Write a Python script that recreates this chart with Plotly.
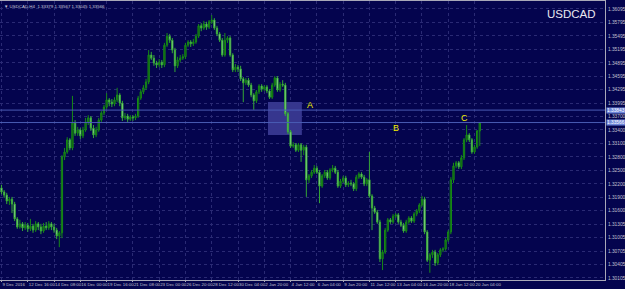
import plotly.graph_objects as go

# ---------------- data (USDCAD H4) ----------------
opens = [1.3211, 1.3202, 1.3195, 1.3182, 1.3186, 1.3175, 1.3142, 1.3124, 1.3131, 1.3122,
         1.3128, 1.3120, 1.3126, 1.3117, 1.3131, 1.3124, 1.3115, 1.3126, 1.3122, 1.3131,
         1.3124, 1.3117, 1.3104, 1.3111, 1.3280, 1.3291, 1.3318, 1.3300, 1.3356, 1.3333,
         1.3340, 1.3327, 1.3340, 1.3358, 1.3367, 1.3344, 1.3329, 1.3340, 1.3362, 1.3378,
         1.3391, 1.3407, 1.3402, 1.3398, 1.3407, 1.3418, 1.3400, 1.3367, 1.3371, 1.3364,
         1.3369, 1.3367, 1.3371, 1.3411, 1.3425, 1.3434, 1.3447, 1.3507, 1.3500, 1.3489,
         1.3485, 1.3491, 1.3485, 1.3529, 1.3549, 1.3540, 1.3518, 1.3483, 1.3496, 1.3500,
         1.3503, 1.3529, 1.3536, 1.3532, 1.3536, 1.3549, 1.3572, 1.3567, 1.3576, 1.3569,
         1.3581, 1.3585, 1.3567, 1.3554, 1.3540, 1.3507, 1.3540, 1.3545, 1.3507, 1.3474,
         1.3480, 1.3476, 1.3454, 1.3445, 1.3451, 1.3440, 1.3418, 1.3405, 1.3425, 1.3438,
         1.3431, 1.3436, 1.3427, 1.3413, 1.3440, 1.3456, 1.3429, 1.3442, 1.3440, 1.3376,
         1.3336, 1.3304, 1.3307, 1.3295, 1.3307, 1.3295, 1.3302, 1.3229, 1.3238, 1.3246,
         1.3255, 1.3246, 1.3215, 1.3238, 1.3246, 1.3233, 1.3251, 1.3255, 1.3246, 1.3215,
         1.3226, 1.3233, 1.3218, 1.3222, 1.3220, 1.3209, 1.3235, 1.3242, 1.3235, 1.3220,
         1.3229, 1.3193, 1.3166, 1.3157, 1.3135, 1.3053, 1.3068, 1.3117, 1.3140, 1.3135,
         1.3148, 1.3151, 1.3135, 1.3128, 1.3115, 1.3135, 1.3144, 1.3137, 1.3153, 1.3160,
         1.3173, 1.3186, 1.3113, 1.3050, 1.3062, 1.3068, 1.3044, 1.3062, 1.3073, 1.3075,
         1.3095, 1.3113, 1.3229, 1.3260, 1.3267, 1.3258, 1.3278, 1.3318, 1.3329, 1.3318,
         1.3291, 1.3302, 1.33379]
highs = [1.3218, 1.3206, 1.3200, 1.3191, 1.3191, 1.3180, 1.3146, 1.3140, 1.3135, 1.3135,
         1.3133, 1.3142, 1.3131, 1.3137, 1.3135, 1.3131, 1.3133, 1.3135, 1.3137, 1.3135,
         1.3131, 1.3122, 1.3115, 1.3284, 1.3300, 1.3324, 1.3322, 1.3416, 1.3362, 1.3347,
         1.3344, 1.3347, 1.3367, 1.3373, 1.3371, 1.3351, 1.3347, 1.3367, 1.3382, 1.3396,
         1.3422, 1.3411, 1.3409, 1.3413, 1.3434, 1.3422, 1.3405, 1.3378, 1.3376, 1.3373,
         1.3373, 1.3376, 1.3416, 1.3429, 1.3440, 1.3454, 1.3518, 1.3514, 1.3507, 1.3494,
         1.3498, 1.3496, 1.3534, 1.3556, 1.3554, 1.3545, 1.3523, 1.3503, 1.3507, 1.3509,
         1.3534, 1.3540, 1.3540, 1.3543, 1.3554, 1.3576, 1.3578, 1.3583, 1.3581, 1.3585,
         1.3596, 1.3589, 1.3572, 1.3558, 1.3545, 1.3556, 1.3549, 1.3549, 1.3511, 1.3487,
         1.3485, 1.3483, 1.3458, 1.3456, 1.3456, 1.3445, 1.3422, 1.3429, 1.3442, 1.3442,
         1.3440, 1.3440, 1.3431, 1.3445, 1.3460, 1.3460, 1.3447, 1.3451, 1.3445, 1.3380,
         1.3340, 1.3313, 1.3311, 1.3311, 1.3311, 1.3307, 1.3307, 1.3242, 1.3251, 1.3262,
         1.3260, 1.3251, 1.3242, 1.3251, 1.3251, 1.3255, 1.3262, 1.3260, 1.3251, 1.3231,
         1.3238, 1.3238, 1.3226, 1.3229, 1.3224, 1.3240, 1.3246, 1.3246, 1.3240, 1.3233,
         1.3291, 1.3197, 1.3171, 1.3162, 1.3140, 1.3073, 1.3122, 1.3144, 1.3144, 1.3153,
         1.3155, 1.3155, 1.3140, 1.3133, 1.3140, 1.3148, 1.3148, 1.3157, 1.3164, 1.3177,
         1.3193, 1.3191, 1.3117, 1.3066, 1.3073, 1.3073, 1.3066, 1.3077, 1.3079, 1.3099,
         1.3117, 1.3235, 1.3267, 1.3271, 1.3271, 1.3284, 1.3322, 1.3351, 1.3333, 1.3322,
         1.3307, 1.3340, 1.33567]
lows = [1.3197, 1.3189, 1.3175, 1.3173, 1.3155, 1.3137, 1.3120, 1.3120, 1.3115, 1.3117,
        1.3113, 1.3115, 1.3111, 1.3113, 1.3117, 1.3108, 1.3111, 1.3117, 1.3117, 1.3117,
        1.3111, 1.3097, 1.3079, 1.3099, 1.3273, 1.3287, 1.3295, 1.3295, 1.3327, 1.3327,
        1.3320, 1.3322, 1.3336, 1.3351, 1.3338, 1.3322, 1.3324, 1.3336, 1.3358, 1.3373,
        1.3387, 1.3393, 1.3391, 1.3393, 1.3402, 1.3393, 1.3360, 1.3362, 1.3358, 1.3360,
        1.3360, 1.3362, 1.3367, 1.3407, 1.3420, 1.3429, 1.3442, 1.3496, 1.3483, 1.3478,
        1.3480, 1.3478, 1.3480, 1.3525, 1.3534, 1.3511, 1.3469, 1.3478, 1.3491, 1.3496,
        1.3498, 1.3525, 1.3525, 1.3527, 1.3532, 1.3545, 1.3560, 1.3563, 1.3563, 1.3565,
        1.3576, 1.3563, 1.3549, 1.3536, 1.3503, 1.3503, 1.3534, 1.3503, 1.3469, 1.3469,
        1.3469, 1.3449, 1.3402, 1.3440, 1.3436, 1.3413, 1.3385, 1.3400, 1.3420, 1.3425,
        1.3427, 1.3422, 1.3409, 1.3409, 1.3436, 1.3425, 1.3425, 1.3436, 1.3371, 1.3331,
        1.3300, 1.3300, 1.3291, 1.3291, 1.3269, 1.3284, 1.3191, 1.3222, 1.3233, 1.3242,
        1.3242, 1.3177, 1.3211, 1.3233, 1.3229, 1.3229, 1.3246, 1.3242, 1.3211, 1.3211,
        1.3222, 1.3213, 1.3213, 1.3215, 1.3204, 1.3204, 1.3231, 1.3231, 1.3215, 1.3215,
        1.3189, 1.3117, 1.3153, 1.3131, 1.3046, 1.3028, 1.3064, 1.3113, 1.3131, 1.3131,
        1.3144, 1.3131, 1.3124, 1.3111, 1.3111, 1.3131, 1.3133, 1.3133, 1.3148, 1.3155,
        1.3169, 1.3108, 1.3046, 1.3022, 1.3055, 1.3037, 1.3039, 1.3057, 1.3068, 1.3071,
        1.3091, 1.3108, 1.3222, 1.3255, 1.3253, 1.3253, 1.3273, 1.3313, 1.3313, 1.3287,
        1.3287, 1.3298, 1.33045]
closes = [1.3202, 1.3195, 1.3182, 1.3186, 1.3175, 1.3142, 1.3124, 1.3131, 1.3122, 1.3128,
          1.3120, 1.3126, 1.3117, 1.3131, 1.3124, 1.3115, 1.3126, 1.3122, 1.3131, 1.3124,
          1.3117, 1.3104, 1.3111, 1.3280, 1.3291, 1.3318, 1.3300, 1.3356, 1.3333, 1.3340,
          1.3327, 1.3340, 1.3358, 1.3367, 1.3344, 1.3329, 1.3340, 1.3362, 1.3378, 1.3391,
          1.3407, 1.3402, 1.3398, 1.3407, 1.3418, 1.3400, 1.3367, 1.3371, 1.3364, 1.3369,
          1.3367, 1.3371, 1.3411, 1.3425, 1.3434, 1.3447, 1.3507, 1.3500, 1.3489, 1.3485,
          1.3491, 1.3485, 1.3529, 1.3549, 1.3540, 1.3518, 1.3483, 1.3496, 1.3500, 1.3503,
          1.3529, 1.3536, 1.3532, 1.3536, 1.3549, 1.3572, 1.3567, 1.3576, 1.3569, 1.3581,
          1.3585, 1.3567, 1.3554, 1.3540, 1.3507, 1.3540, 1.3545, 1.3507, 1.3474, 1.3480,
          1.3476, 1.3454, 1.3445, 1.3451, 1.3440, 1.3418, 1.3405, 1.3425, 1.3438, 1.3431,
          1.3436, 1.3427, 1.3413, 1.3440, 1.3456, 1.3429, 1.3442, 1.3440, 1.3376, 1.3336,
          1.3304, 1.3307, 1.3295, 1.3307, 1.3295, 1.3302, 1.3229, 1.3238, 1.3246, 1.3255,
          1.3246, 1.3215, 1.3238, 1.3246, 1.3233, 1.3251, 1.3255, 1.3246, 1.3215, 1.3226,
          1.3233, 1.3218, 1.3222, 1.3220, 1.3209, 1.3235, 1.3242, 1.3235, 1.3220, 1.3229,
          1.3193, 1.3166, 1.3157, 1.3135, 1.3053, 1.3068, 1.3117, 1.3140, 1.3135, 1.3148,
          1.3151, 1.3135, 1.3128, 1.3115, 1.3135, 1.3144, 1.3137, 1.3153, 1.3160, 1.3173,
          1.3186, 1.3113, 1.3050, 1.3062, 1.3068, 1.3044, 1.3062, 1.3073, 1.3075, 1.3095,
          1.3113, 1.3229, 1.3260, 1.3267, 1.3258, 1.3278, 1.3318, 1.3329, 1.3318, 1.3291,
          1.3302, 1.3338, 1.33566]

time_tick_bars = [0, 10, 20, 30, 40, 50, 60, 70, 80, 90, 100, 110, 120, 130, 140, 150, 160, 170, 180]
time_tick_labels = ["9 Dec 2016", "12 Dec 16:00", "14 Dec 08:00", "16 Dec 00:00", "19 Dec 16:00",
                    "21 Dec 08:00", "23 Dec 00:00", "26 Dec 20:00", "28 Dec 12:00", "30 Dec 04:00",
                    "2 Jan 20:00", "4 Jan 12:00", "6 Jan 04:00", "9 Jan 20:00", "11 Jan 12:00",
                    "13 Jan 04:00", "16 Jan 20:00", "18 Jan 12:00", "20 Jan 04:00"]
price_tick_labels = ["1.36095", "1.35795", "1.35495", "1.35195", "1.34895", "1.34595", "1.34295",
                     "1.33995", "1.33700", "1.33400", "1.33100", "1.32800", "1.32500", "1.32200",
                     "1.31900", "1.31600", "1.31305", "1.31005", "1.30705", "1.30405", "1.30105"]
price_tick_values = [float(s) for s in price_tick_labels]

hline_levels = [1.33843, 1.33566]
hline_labels = ["1.33843", "1.33566"]
zone = dict(bar0=101.4, bar1=114.3, p0=1.33289, p1=1.34023)
marks = [("A", 117.4, 1.33957), ("B", 150.1, 1.33444), ("C", 176.0, 1.33667)]
header = "\u25bc USDCAD,H4  1.33379 1.33567 1.33045 1.33566"

bars = list(range(len(closes)))

BG = "#04044E"
GRID = "#2A2A74"
AXC = "#A8A8B8"
FONT = "Liberation Sans, Arial, sans-serif"
SMALL = 4.4
YSMALL = 4.8

fig = go.Figure()
fig.add_trace(go.Candlestick(
    x=bars, open=opens, high=highs, low=lows, close=closes,
    increasing=dict(line=dict(color="#178A17", width=1), fillcolor="#0A500A"),
    decreasing=dict(line=dict(color="#35A835", width=1), fillcolor="#C6F6C6"),
    whiskerwidth=0, showlegend=False, hoverinfo="skip",
))

shapes = [
    dict(type="rect", xref="x", yref="y", x0=zone["bar0"], x1=zone["bar1"],
         y0=zone["p0"], y1=zone["p1"], fillcolor="#36368E", line=dict(width=0),
         layer="between"),
]
for lv in hline_levels:
    shapes.append(dict(type="line", xref="paper", yref="y", x0=0, x1=1, y0=lv, y1=lv,
                       line=dict(color="#4A5CB4", width=1), layer="above"))

annotations = []
for t, bx, py in marks:
    annotations.append(dict(x=bx, y=py, xref="x", yref="y", text=t, showarrow=False,
                            font=dict(family=FONT, size=9, color="#F0F000")))
for lv, lab in zip(hline_levels, hline_labels):
    annotations.append(dict(x=1, y=lv, xref="paper", yref="y", text=lab, showarrow=False,
                            xanchor="left", yanchor="middle", xshift=1,
                            bgcolor="#6F87DA", borderpad=0,
                            font=dict(family=FONT, size=YSMALL, color="#FFFFFF")))
annotations.append(dict(x=0.988, y=0.955, xref="paper", yref="paper", text="USDCAD",
                        showarrow=False, xanchor="right", yanchor="middle",
                        font=dict(family=FONT, size=11.5, color="#E8E8F0")))
annotations.append(dict(x=0.004, y=0.998, xref="paper", yref="paper", text=header,
                        showarrow=False, xanchor="left", yanchor="top",
                        font=dict(family=FONT, size=SMALL, color="#C8C8D8")))

fig.update_layout(
    width=625, height=289,
    margin=dict(l=0, r=20, t=1, b=9, autoexpand=False),
    paper_bgcolor=BG, plot_bgcolor=BG,
    shapes=shapes, annotations=annotations,
    showlegend=False,
    xaxis=dict(range=[-0.57, 229.65], tickmode="array", tickvals=time_tick_bars,
               ticktext=time_tick_labels, ticklabelposition="outside right",
               tickangle=0, automargin=False,
               tickfont=dict(family=FONT, size=SMALL, color="#C0C0D0"),
               showgrid=True, gridcolor=GRID, griddash="dot", gridwidth=1,
               showline=True, linecolor=AXC, linewidth=1, mirror=True,
               zeroline=False, ticks="outside", ticklen=1, tickcolor=AXC,
               rangeslider=dict(visible=False), fixedrange=True),
    yaxis=dict(side="right", range=[1.30059, 1.36273], tickmode="array",
               tickvals=price_tick_values, ticktext=price_tick_labels,
               automargin=False,
               tickfont=dict(family=FONT, size=YSMALL, color="#C0C0D0"),
               showgrid=True, gridcolor=GRID, griddash="dot", gridwidth=1,
               showline=True, linecolor=AXC, linewidth=1, mirror=True,
               zeroline=False, ticks="", ticklabelstandoff=1,
               fixedrange=True),
)

fig.write_html("out.html")
